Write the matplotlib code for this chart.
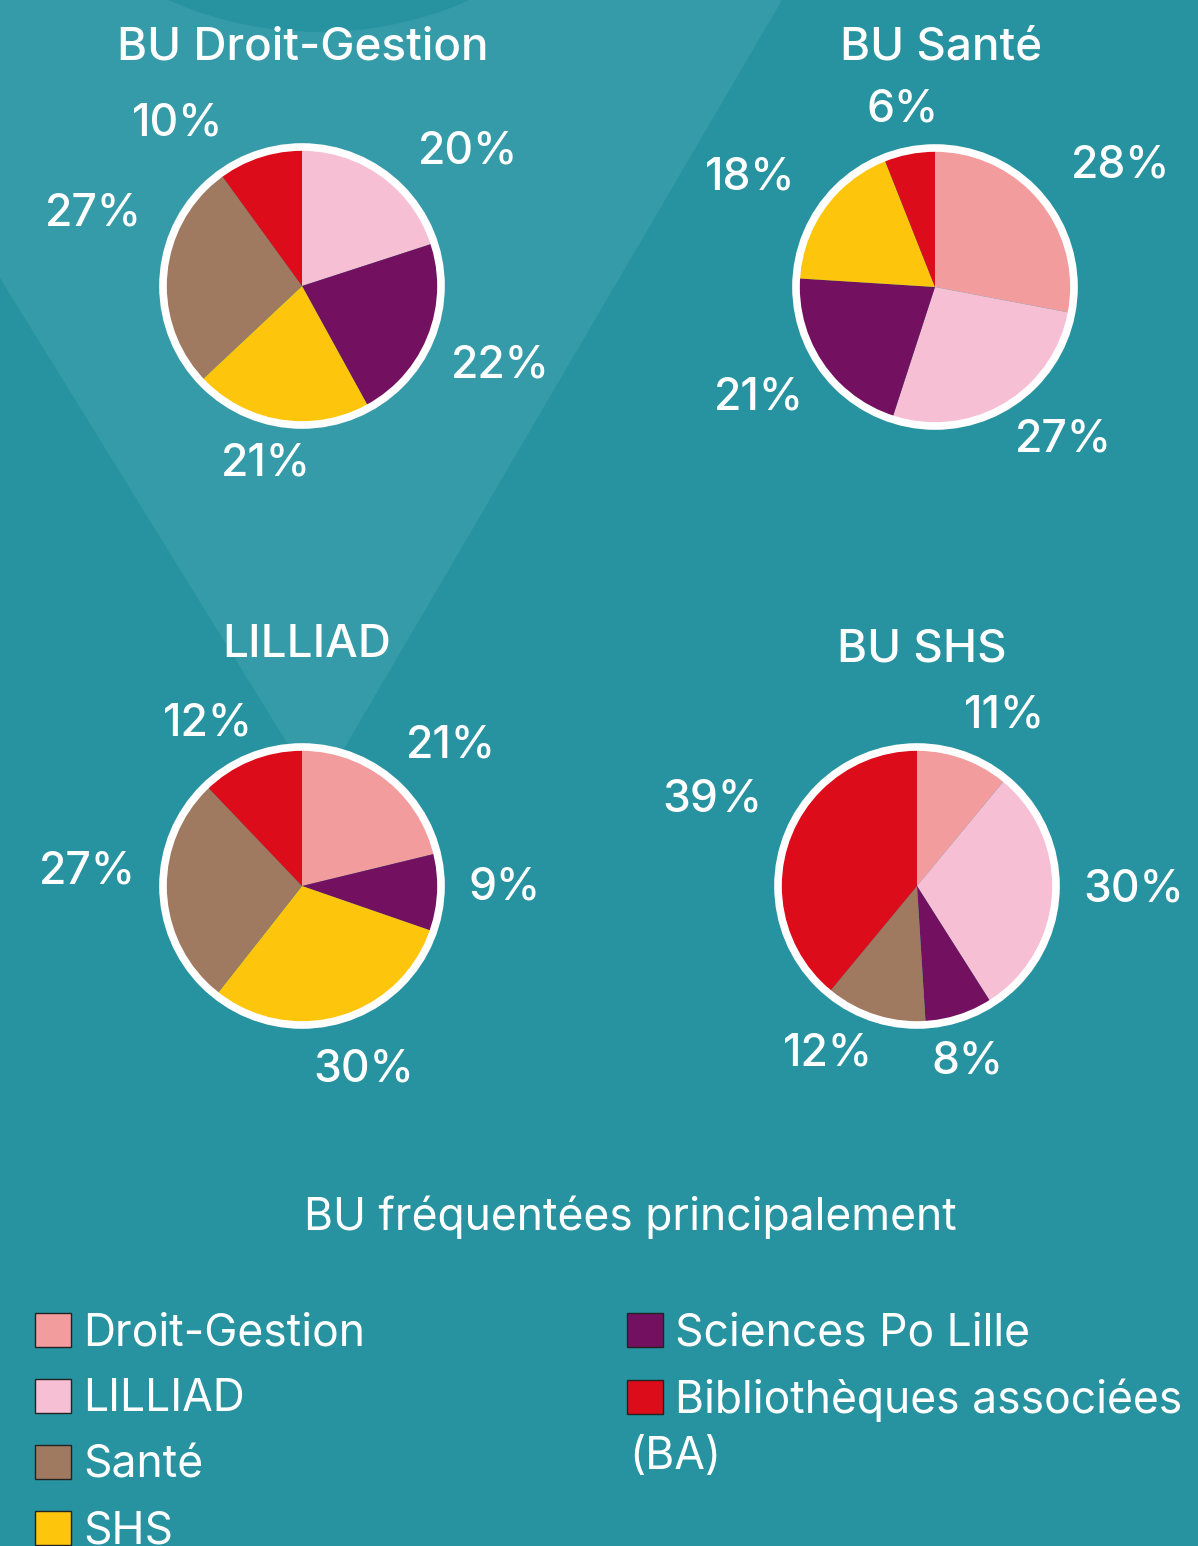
import matplotlib.pyplot as plt
from matplotlib.patches import Polygon, Circle, Patch

plt.rcParams['font.family'] = ['Inter', 'DejaVu Sans']

W, H = 1198, 1546

# categories, in the clockwise order used by every pie
cats = ['Droit-Gestion', 'LILLIAD', 'Sciences Po Lille', 'SHS', 'Santé', 'Bibliothèques associées (BA)']
cat_colors = ['#F39C9E', '#F7BFD3', '#731160', '#FDC50C', '#A07A60', '#DC0C1A']

# share (%) of each BU's users by the other BU they mostly attend
droit_gestion = [0, 20, 22, 21, 27, 10]
sante = [28, 27, 21, 18, 0, 6]
lilliad = [21, 0, 9, 30, 27, 12]
shs = [11, 30, 8, 0, 12, 39]

titles = ['BU Droit-Gestion', 'BU Santé', 'LILLIAD', 'BU SHS']
series = [droit_gestion, sante, lilliad, shs]

legend_left = ['Droit-Gestion', 'LILLIAD', 'Santé', 'SHS']
legend_right = ['Sciences Po Lille', 'Bibliothèques associées']

# layout (pixels, y going down)
centers = [(302, 286), (935, 287), (302, 886), (917, 886)]
title_pos = [(303, 48), (941, 48), (307, 645), (922, 650)]
label_off = [
    [(166, -134), (198, 79), (-36, 177), (-209, -73), (-124, -163)],
    [(186, -121), (128, 153), (-176, 111), (-185, -110), (-32, -177)],
    [(149, -141), (203, 1), (62, 183), (-215, -14), (-94, -163)],
    [(88, -170), (217, 3), (51, 175), (-89, 168), (-205, -86)],
]
R = 136

bg = '#2793A0'
beam = '#369BA8'

fig = plt.figure(figsize=(W / 100, H / 100), dpi=100)
fig.patch.set_facecolor(bg)
ax = fig.add_axes([0, 0, 1, 1])

def Y(y):
    return H - y

# light beam behind the left pies
ax.add_patch(Polygon([(0, Y(0)), (782, Y(0)), (318, Y(793)), (0, Y(278))],
                     closed=True, facecolor=beam, edgecolor='none', zorder=0))
ax.add_patch(Circle((319, Y(-340)), 372, facecolor=bg, edgecolor='none', zorder=0.5))

for vals, (cx, cy), offs, title, tpos in zip(series, centers, label_off, titles, title_pos):
    v = [x for x in vals if x > 0]
    c = [col for x, col in zip(vals, cat_colors) if x > 0]
    wedges, _ = ax.pie(v, colors=c, startangle=90, counterclock=False,
                       center=(cx, Y(cy)), radius=R, frame=True,
                       wedgeprops=dict(linewidth=0))
    for w in wedges:
        w.set_zorder(2)
    ax.add_patch(Circle((cx, Y(cy)), R + 3, fill=False, edgecolor='white',
                        linewidth=5.5, zorder=3))
    for x, (dx, dy) in zip(v, offs):
        ax.text(cx + dx, Y(cy + dy), f'{x}%', color='white', fontsize=32,
                fontweight='medium', ha='center', va='center', zorder=4)
    ax.text(tpos[0], Y(tpos[1]), title, color='white', fontsize=33,
            fontweight='medium', ha='center', va='center', zorder=4)

ax.set_xlim(0, W)
ax.set_ylim(0, H)
ax.set_aspect('equal')
ax.axis('off')

ax.text(630, Y(1217), 'BU fréquentées principalement', color='white', fontsize=32,
        ha='center', va='center')

col = dict(zip(['Droit-Gestion', 'LILLIAD', 'Sciences Po Lille', 'SHS', 'Santé', 'Bibliothèques associées'],
               cat_colors))
leg_kw = dict(frameon=False, fontsize=32, labelcolor='white', handlelength=0.8,
              handleheight=0.8, handletextpad=0.28, labelspacing=0.54,
              borderpad=0, borderaxespad=0, loc='upper left')
h1 = [Patch(facecolor=col[k], edgecolor='#222222', linewidth=1) for k in legend_left]
leg1 = ax.legend(h1, legend_left, bbox_to_anchor=(35 / W, 1 - 1312 / H), **leg_kw)
ax.add_artist(leg1)
h2 = [Patch(facecolor=col[k], edgecolor='#222222', linewidth=1) for k in legend_right]
ax.legend(h2, legend_right, bbox_to_anchor=(627 / W, 1 - 1312 / H), **leg_kw)
ax.text(629, Y(1457), '(BA)', color='white', fontsize=32, ha='left', va='center')

fig.savefig('out.png', dpi=100, facecolor=bg)
